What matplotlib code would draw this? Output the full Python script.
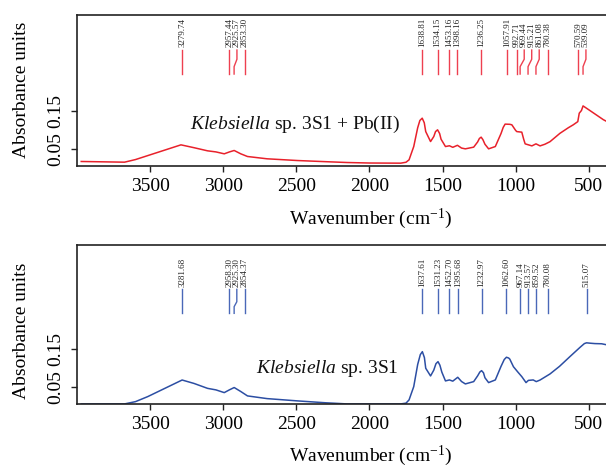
import matplotlib
matplotlib.use("Agg")
import matplotlib.pyplot as plt
import matplotlib.transforms as mtransforms

plt.rcParams['font.family'] = ['Liberation Serif', 'DejaVu Serif']
plt.rcParams['mathtext.fontset'] = 'custom'
plt.rcParams['mathtext.rm'] = 'Liberation Serif'
plt.rcParams['mathtext.it'] = 'Liberation Serif:italic'

# ---------------- data ----------------
pb_wavenumber = [3971, 3675, 3600, 3289, 3200, 3107, 3050, 2993, 2957, 2925, 2880, 2834,
                 2700, 2493, 2300, 2152, 2000, 1786, 1750, 1729, 1697, 1670, 1655, 1639,
                 1625, 1615, 1582, 1560, 1548, 1534, 1520, 1510, 1480, 1453, 1430, 1398,
                 1370, 1344, 1287, 1260, 1248, 1236, 1224, 1210, 1185, 1139, 1100, 1085,
                 1072, 1040, 1026, 1000, 992, 958, 945, 935, 889, 861, 833, 800, 765, 697,
                 640, 606, 575, 565, 550, 539, 500, 450, 400, 380]
pb_absorbance = [0.017, 0.0152, 0.022, 0.0604, 0.053, 0.0448, 0.042, 0.037, 0.042, 0.0457,
                 0.037, 0.030, 0.024, 0.0195, 0.0165, 0.0143, 0.013, 0.0126, 0.015, 0.0213,
                 0.056, 0.105, 0.124, 0.130, 0.118, 0.095, 0.069, 0.082, 0.095, 0.0996,
                 0.090, 0.075, 0.056, 0.058, 0.054, 0.0592, 0.052, 0.050, 0.0544, 0.068,
                 0.077, 0.0805, 0.074, 0.062, 0.050, 0.056, 0.090, 0.106, 0.1145, 0.114,
                 0.1127, 0.098, 0.095, 0.0935, 0.075, 0.063, 0.0577, 0.063, 0.0577, 0.062,
                 0.0687, 0.0905, 0.105, 0.1127, 0.121, 0.143, 0.150, 0.162, 0.152, 0.139,
                 0.126, 0.122]

ctrl_wavenumber = [3971, 3675, 3600, 3516, 3281, 3200, 3107, 3050, 2993, 2958, 2925, 2880,
                   2834, 2700, 2493, 2300, 2152, 1786, 1750, 1729, 1697, 1670, 1652, 1638,
                   1624, 1615, 1582, 1560, 1545, 1531, 1518, 1505, 1480, 1453, 1430, 1396,
                   1370, 1344, 1287, 1260, 1245, 1233, 1220, 1210, 1185, 1139, 1100, 1078,
                   1063, 1048, 1040, 1015, 985, 958, 929, 913, 880, 859, 833, 765, 700, 629,
                   560, 530, 515, 490, 458, 412, 380]
ctrl_absorbance = [0.006, 0.006, 0.012, 0.0253, 0.069, 0.060, 0.047, 0.043, 0.0358, 0.043,
                   0.0492, 0.0387, 0.0271, 0.020, 0.014, 0.009, 0.006, 0.006, 0.008, 0.0166,
                   0.0516, 0.110, 0.136, 0.1437, 0.128, 0.100, 0.0797, 0.095, 0.112, 0.1174,
                   0.108, 0.090, 0.0666, 0.0692, 0.066, 0.0762, 0.065, 0.0587, 0.0648, 0.080,
                   0.090, 0.0937, 0.088, 0.075, 0.0622, 0.0692, 0.105, 0.123, 0.129, 0.127,
                   0.124, 0.104, 0.090, 0.0779, 0.0622, 0.068, 0.0692, 0.0648, 0.069, 0.085,
                   0.105, 0.1306, 0.155, 0.165, 0.167, 0.166, 0.165, 0.1645, 0.162]

pb_peaks = [3279.74, 2957.44, 2925.57, 2853.30, 1638.81, 1534.15, 1453.16, 1398.16,
            1236.25, 1057.91, 992.71, 969.44, 915.21, 861.08, 780.38, 570.59, 539.09]
ctrl_peaks = [3281.68, 2958.30, 2925.30, 2854.37, 1637.61, 1531.23, 1452.70, 1395.68,
              1232.97, 1062.60, 967.14, 913.57, 859.52, 780.08, 515.07]

x_ticks = [3500, 3000, 2500, 2000, 1500, 1000, 500]
y_ticks = [0.05, 0.15]

pb_title = r"$\mathit{Klebsiella}$ sp. 3S1 + Pb(II)"
ctrl_title = r"$\mathit{Klebsiella}$ sp. 3S1"

# ---------------- layout ----------------
W, H = 606, 468
fig = plt.figure(figsize=(W / 100, H / 100), dpi=100)

XLIM = (4000, 300)
px_per_unit = (618 - 77) / (XLIM[0] - XLIM[1])
min_sep = 7.5 / px_per_unit

red = '#e8212b'
red_mark = '#ee4050'
blue = '#2c4ea3'
blue_mark = '#4a68b8'


def spread(peaks):
    labels = []
    prev = None
    for p in peaks:
        lab = p if prev is None else min(p, prev - min_sep)
        labels.append(lab)
        prev = lab
    return labels


def panel(rect, wn, ab, peaks, ylim, color, mcolor, title, title_xy, ylev):
    ax = fig.add_axes(rect)
    ax.plot(wn, ab, color=color, lw=1.1, clip_on=True)
    ax.set_xlim(*XLIM)
    ax.set_ylim(*ylim)
    ax.set_xticks(x_ticks)
    ax.set_xticklabels([str(t) for t in x_ticks])
    ax.set_yticks(y_ticks)
    ax.set_yticklabels(['0.05', '0.15'])
    ax.tick_params(axis='both', direction='out', length=4.5, width=1.0,
                   labelsize=14, color='#222222')
    ax.tick_params(axis='x', pad=4)
    ax.tick_params(axis='y', pad=4.5)
    for lbl in ax.get_yticklabels():
        lbl.set_rotation(90)
        lbl.set_va('center')
        lbl.set_ha('right')
    for s in ['left', 'bottom', 'top']:
        ax.spines[s].set_linewidth(1.2)
        ax.spines[s].set_color('#222222')
    ax.spines['right'].set_visible(False)

    trans = mtransforms.blended_transform_factory(ax.transData, ax.transAxes)
    y_bot, k_lo, k_hi, y_top, y_lab = ylev
    for p, lab in zip(peaks, spread(peaks)):
        ax.plot([p, p, lab, lab], [y_bot, k_lo, k_hi, y_top], color=mcolor,
                lw=1.0, transform=trans, clip_on=False)
        ax.text(lab, y_lab, f"{p:.2f}", rotation=90, ha='center', va='bottom',
                fontsize=6.5, color='#222222', transform=trans)

    ax.text(title_xy[0], title_xy[1], title, transform=trans, ha='center',
            va='center', fontsize=14, color='#111111')
    ax.set_xlabel(r"Wavenumber (cm$^{-1}$)", fontsize=14)
    return ax


ax1 = panel([77 / W, 1 - 165.7 / H, (618 - 77) / W, 151 / H],
            pb_wavenumber, pb_absorbance, pb_peaks, (0.006, 0.40), red, red_mark,
            pb_title, (2510, 0.27), (0.607, 0.656, 0.705, 0.766, 0.784))
ax1.xaxis.set_label_coords((371 - 77) / (618 - 77), (165.7 - 207) / 151)

ax2 = panel([77 / W, 1 - 404.3 / H, (618 - 77) / W, 159 / H],
            ctrl_wavenumber, ctrl_absorbance, ctrl_peaks, (0.005, 0.424), blue, blue_mark,
            ctrl_title, (2290, 0.228), (0.572, 0.614, 0.645, 0.723, 0.736))
ax2.xaxis.set_label_coords((371 - 77) / (618 - 77), (404.3 - 444) / 159)

fig.text(22 / W, 1 - 90 / H, "Absorbance units", rotation=90, ha='center',
         va='center', fontsize=14)
fig.text(22 / W, 1 - 331 / H, "Absorbance units", rotation=90, ha='center',
         va='center', fontsize=14)

fig.savefig("out.png", dpi=100)
